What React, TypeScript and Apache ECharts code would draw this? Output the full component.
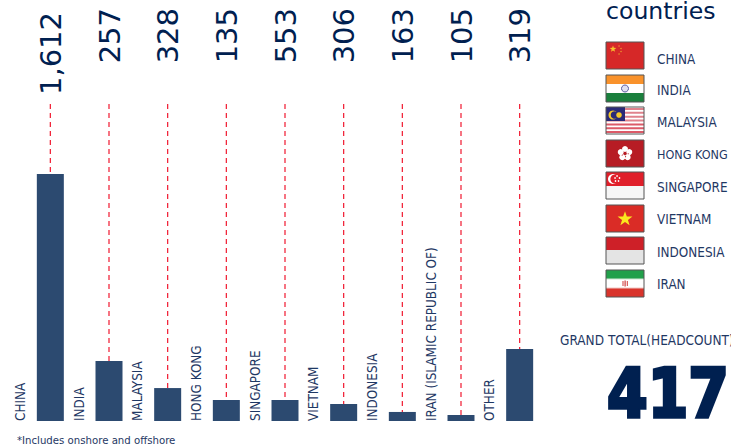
import React, { useEffect, useRef } from "react";
import * as echarts from "echarts";

const categories = ["CHINA", "INDIA", "MALAYSIA", "HONG KONG", "SINGAPORE", "VIETNAM", "INDONESIA", "IRAN (ISLAMIC REPUBLIC OF)", "OTHER"];
const barValues = [1612, 392, 215, 137, 137, 111, 59, 39, 470];
const topLabels = ["1,612", "257", "328", "135", "553", "306", "163", "105", "319"];
const flagNames = ["CHINA", "INDIA", "MALAYSIA", "HONG KONG", "SINGAPORE", "VIETNAM", "INDONESIA", "IRAN"];
const flagTops = [42, 75, 107, 140, 172, 205, 237, 270];
const flagLabelY = [59, 90, 122, 154, 187, 219, 252, 284];
const axisMax = 2069;

const NAVY = "#002050";
const TEXT = "#1f3864";
const FONT = "'DejaVu Sans Condensed', 'DejaVu Sans', sans-serif";
const FX = 606;
const FW = 38;
const FH = 27;

function star(cx: number, cy: number, r: number, fill: string) {
  const points: number[][] = [];
  for (let i = 0; i < 10; i++) {
    const rad = i % 2 === 0 ? r : r * 0.4;
    const a = -Math.PI / 2 + (i * Math.PI) / 5;
    points.push([cx + rad * Math.cos(a), cy + rad * Math.sin(a)]);
  }
  return { type: "polygon", shape: { points }, style: { fill } };
}
const rect = (x: number, y: number, w: number, h: number, fill: string) => ({
  type: "rect", shape: { x, y, width: w, height: h }, style: { fill },
});
const circle = (cx: number, cy: number, r: number, fill: string) => ({
  type: "circle", shape: { cx, cy, r }, style: { fill },
});

function flagBody(name: string, y: number): any[] {
  const x = FX;
  const cx = x + FW / 2;
  const cy = y + FH / 2;
  switch (name) {
    case "CHINA":
      return [rect(x, y, FW, FH, "#d62828"), star(x + 7, y + 7, 3.5, "#f8c22e"),
        circle(x + 13, y + 4, 0.7, "#f0a030"), circle(x + 15, y + 6.5, 0.7, "#f0a030"), circle(x + 15, y + 9.5, 0.7, "#f0a030"), circle(x + 13, y + 12, 0.7, "#f0a030")];
    case "INDIA":
      return [rect(x, y, FW, 9, "#f9922b"), rect(x, y + 9, FW, 9, "#ffffff"), rect(x, y + 18, FW, 9, "#1a7f3c"),
        { type: "circle", shape: { cx, cy, r: 3.5 }, style: { fill: "#dfe0f0", stroke: "#5a5aa0", lineWidth: 1 } }];
    case "MALAYSIA": {
      const out: any[] = [rect(x, y, FW, FH, "#ffffff")];
      for (let i = 0; i < 7; i++) out.push(rect(x, y + 1 + i * 3.85, FW, 2, i > 3 ? "#dc5a68" : "#e0828c"));
      out.push(rect(x, y, 19, 14, "#2a2a78"), circle(x + 7, y + 8, 4.5, "#f4c82c"), circle(x + 8.5, y + 8, 3.8, "#2a2a78"), circle(x + 13, y + 8, 2.8, "#f4c82c"));
      return out;
    }
    case "HONG KONG": {
      const out: any[] = [rect(x, y, FW, FH, "#b71c24")];
      for (let i = 0; i < 5; i++) {
        const a = -Math.PI / 2 + (i * 2 * Math.PI) / 5;
        out.push(circle(cx + 4.5 * Math.cos(a), cy + 4.5 * Math.sin(a), 3, "#ffffff"));
        out.push(circle(cx + 3.2 * Math.cos(a + 0.5), cy + 3.2 * Math.sin(a + 0.5), 0.7, "#b71c24"));
      }
      out.push(circle(cx, cy, 1.1, "#b71c24"));
      return out;
    }
    case "SINGAPORE":
      return [rect(x, y, FW, 14, "#e01f2a"), rect(x, y + 14, FW, 13, "#f6f6f6"),
        circle(x + 7, y + 7, 5, "#ffffff"), circle(x + 9, y + 7, 4.6, "#e01f2a"),
        circle(x + 11, y + 4, 0.8, "#fff"), circle(x + 13.5, y + 6, 0.8, "#fff"), circle(x + 12.5, y + 9, 0.8, "#fff"), circle(x + 9.5, y + 9, 0.8, "#fff"), circle(x + 9, y + 6, 0.8, "#fff")];
    case "VIETNAM":
      return [rect(x, y, FW, FH, "#da2c26"), star(cx, cy + 0.5, 7.8, "#fbe91e")];
    case "INDONESIA":
      return [rect(x, y, FW, 13, "#ce2028"), rect(x, y + 13, FW, 14, "#e4e4e4")];
    case "IRAN":
      return [rect(x, y, FW, 9, "#21a04a"), rect(x, y + 9, FW, 9, "#ffffff"), rect(x, y + 18, FW, 9, "#d9342c"),
        rect(x, y + 8.5, FW, 1, "#cfe8d4"), rect(x, y + 17.5, FW, 1, "#f2c8c4"),
        rect(cx - 2.5, cy - 2.5, 1, 5, "#cf3a3a"), rect(cx - 0.5, cy - 3, 1.2, 6, "#cf3a3a"), rect(cx + 1.8, cy - 2.5, 1, 5, "#cf3a3a")];
  }
  return [];
}

const labelSize = (name: string) => (name === "HONG KONG" ? 12.5 : 13.4);

function buildGraphics() {
  const els: any[] = [];
  flagNames.forEach((name, i) => {
    const y = flagTops[i];
    els.push(...flagBody(name, y));
    els.push({ type: "rect", shape: { x: FX, y, width: FW, height: FH }, style: { fill: "none", stroke: "#555555", lineWidth: 1 } });
    els.push({ type: "text", x: 657, y: flagLabelY[i], style: { text: name, fontFamily: FONT, fontSize: labelSize(name), fill: TEXT, verticalAlign: "middle" } });
  });
  els.push({ type: "text", x: 606, y: 11, style: { text: "countries", fontFamily: "'DejaVu Sans', sans-serif", fontSize: 23.6, fill: NAVY, verticalAlign: "middle" } });
  els.push({ type: "text", x: 560, y: 340, style: { text: "GRAND TOTAL(HEADCOUNT)", fontFamily: FONT, fontSize: 13.5, fill: TEXT, verticalAlign: "middle" } });
  els.push({ type: "text", x: 668, y: 393, scaleX: 0.86, style: { text: "417", fontFamily: "'DejaVu Sans', sans-serif", fontWeight: "bold", fontSize: 68, fill: NAVY, stroke: NAVY, lineWidth: 3.5, align: "center", verticalAlign: "middle" } });
  els.push({ type: "text", x: 17, y: 440, style: { text: "*Includes onshore and offshore", fontFamily: FONT, fontSize: 11.3, fill: TEXT, verticalAlign: "middle" } });
  return els;
}

export default function App() {
  const ref = useRef<HTMLDivElement>(null);
  useEffect(() => {
    document.body.style.margin = "0";
    const chart = echarts.init(ref.current!, undefined, { renderer: "svg" });
    chart.setOption({
      animation: false,
      backgroundColor: "#ffffff",
      grid: { left: 21, right: 182, top: 104, bottom: 25 },
      xAxis: { type: "category", data: categories, axisLine: { show: false }, axisTick: { show: false }, axisLabel: { show: false } },
      yAxis: { type: "value", min: 0, max: axisMax, show: false },
      series: [
        {
          type: "custom",
          data: barValues.map((v, i) => [i, v]),
          renderItem: (_p: any, api: any) => {
            const a = api.coord([api.value(0), axisMax]);
            const b = api.coord([api.value(0), api.value(1)]);
            return {
              type: "line",
              shape: { x1: a[0], y1: a[1], x2: b[0], y2: b[1] },
              style: { stroke: "#f0182f", lineWidth: 1.2, lineDash: [5, 4], fill: "none" },
            };
          },
          z: 1,
        },
        { type: "bar", data: barValues, barWidth: 27, itemStyle: { color: "#2c4a70" }, z: 2 },
        {
          type: "scatter",
          symbolSize: 0,
          itemStyle: { opacity: 1 },
          data: categories.map((c, i) => ({ value: [i, 0], name: c })),
          label: {
            show: true, position: "inside", rotate: 90, align: "left", verticalAlign: "middle",
            offset: [0, -30], formatter: (p: any) => p.name, fontFamily: FONT, fontSize: 13.4, color: TEXT,
          },
          z: 3,
        },
        {
          type: "scatter",
          symbolSize: 0,
          itemStyle: { opacity: 1 },
          data: topLabels.map((t, i) => ({
            value: [i, axisMax], name: t,
            label: { offset: [t.length > 3 ? 92 : 96, 0.5] },
          })),
          label: {
            show: true, position: "inside", rotate: 90, align: "right", verticalAlign: "middle",
            formatter: (p: any) => p.name, fontFamily: "'DejaVu Sans', sans-serif", fontSize: 29, color: NAVY,
          },
          z: 3,
        },
      ],
      graphic: buildGraphics(),
    });
    return () => chart.dispose();
  }, []);
  return <div ref={ref} style={{ width: 731, height: 446, position: "fixed", left: 0, top: 0 }} />;
}
